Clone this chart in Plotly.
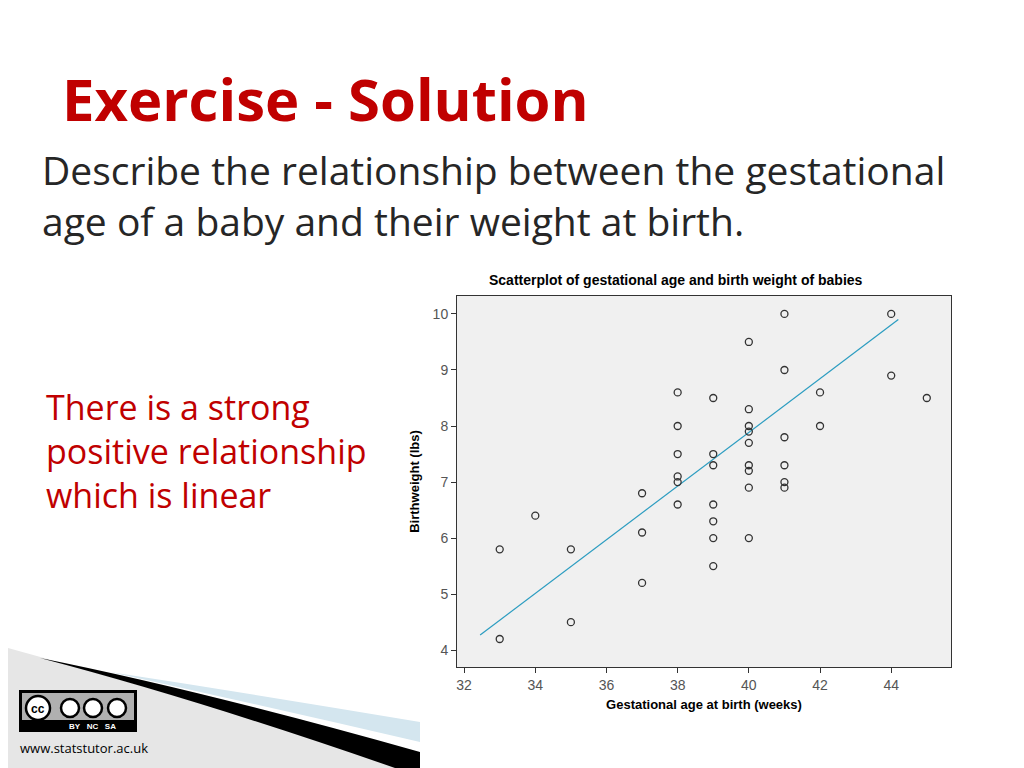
import plotly.graph_objects as go

age = [33, 33, 34, 35, 35, 37, 37, 37,
       38, 38, 38, 38, 38, 38,
       39, 39, 39, 39, 39, 39, 39,
       40, 40, 40, 40, 40, 40, 40, 40, 40,
       41, 41, 41, 41, 41, 41,
       42, 42, 44, 44, 45]
weight = [5.8, 4.2, 6.4, 5.8, 4.5, 6.8, 6.1, 5.2,
          8.6, 8.0, 7.5, 7.1, 7.0, 6.6,
          8.5, 7.5, 7.3, 6.6, 6.3, 6.0, 5.5,
          9.5, 8.3, 8.0, 7.9, 7.7, 7.3, 7.2, 6.9, 6.0,
          10.0, 9.0, 7.8, 7.3, 7.0, 6.9,
          8.6, 8.0, 10.0, 8.9, 8.5]
# fit line as drawn in the reference
fit_x = [32.45, 44.2]
fit_y = [4.27, 9.9]
x_ticks = [32, 34, 36, 38, 40, 42, 44]
y_ticks = [4, 5, 6, 7, 8, 9, 10]

OFF = 8  # page body margin
W, H = 1024 - OFF, 768 - OFF


def px(x):
    return (x - OFF) / W


def py(y):
    return 1 - (y - OFF) / H


fig = go.Figure()
fig.add_trace(go.Scatter(
    x=fit_x, y=fit_y, mode="lines",
    line=dict(color="#2b9cc0", width=1.2), hoverinfo="skip"
))
fig.add_trace(go.Scatter(
    x=age, y=weight, mode="markers",
    marker=dict(symbol="circle-open", size=7, color="#333333", line=dict(width=1.3))
))

# footer decoration
shapes = [
    dict(type="path", xref="paper", yref="paper", layer="below",
         path=f"M {px(8)},{py(648)} L {px(80)},{py(668)} L {px(420)},{py(768)} L {px(8)},{py(768)} Z",
         fillcolor="#e6e6e6", line=dict(width=0)),
    dict(type="path", xref="paper", yref="paper", layer="below",
         path=f"M {px(110)},{py(672)} Q {px(260)},{py(695)} {px(420)},{py(722)} "
              f"L {px(420)},{py(742)} Q {px(260)},{py(705)} {px(110)},{py(672)} Z",
         fillcolor="#d4e6ef", line=dict(width=0)),
    dict(type="path", xref="paper", yref="paper", layer="below",
         path=f"M {px(40)},{py(658)} Q {px(200)},{py(690)} {px(420)},{py(752)} "
              f"L {px(420)},{py(768)} L {px(395)},{py(768)} Q {px(200)},{py(700)} {px(40)},{py(658)} Z",
         fillcolor="black", line=dict(width=0)),
    dict(type="rect", xref="paper", yref="paper",
         x0=px(19), x1=px(137), y0=py(732), y1=py(690),
         fillcolor="black", line=dict(width=0)),
    dict(type="rect", xref="paper", yref="paper",
         x0=px(22), x1=px(134), y0=py(720), y1=py(693),
         fillcolor="#b0b0b0", line=dict(width=0)),
]
for cx, r in [(38, 12), (70, 9), (93, 9), (117, 9)]:
    shapes.append(dict(type="circle", xref="paper", yref="paper",
                       x0=px(cx - r), x1=px(cx + r), y0=py(708 + r), y1=py(708 - r),
                       fillcolor="white", line=dict(color="black", width=2.5)))

ann = [
    dict(text="<b>Exercise - Solution</b>", x=px(60), y=py(98), xanchor="left", yanchor="middle",
         font=dict(family="Open Sans", size=58, color="#c00000")),
    dict(text="Describe the relationship between the gestational<br>age of a baby and their weight at birth.",
         x=px(40), y=py(195), xanchor="left", yanchor="middle", align="left",
         font=dict(family="Open Sans", size=39, color="#262626")),
    dict(text="There is a strong<br>positive relationship<br>which is linear",
         x=px(44), y=py(451), xanchor="left", yanchor="middle", align="left",
         font=dict(family="Open Sans", size=34, color="#c00000")),
    dict(text="<b>Scatterplot of gestational age and birth weight of babies</b>",
         x=px(676), y=py(280), xanchor="center", yanchor="middle",
         font=dict(family="Liberation Sans", size=14, color="black")),
    dict(text="<b>cc</b>", x=px(38), y=py(709), xanchor="center", yanchor="middle",
         font=dict(family="Liberation Sans", size=12, color="black")),
    dict(text="<b>BY   NC   SA</b>", x=px(92), y=py(726), xanchor="center", yanchor="middle",
         font=dict(family="Liberation Sans", size=8, color="white")),
    dict(text="www.statstutor.ac.uk", x=px(18), y=py(748), xanchor="left", yanchor="middle",
         font=dict(family="Open Sans", size=13, color="black")),
]
for a in ann:
    a["xref"] = "paper"
    a["yref"] = "paper"
    a["showarrow"] = False

fig.update_layout(
    width=W, height=H,
    margin=dict(l=0, r=0, t=0, b=0),
    paper_bgcolor="white",
    plot_bgcolor="#f0f0f0",
    showlegend=False,
    shapes=shapes,
    annotations=ann,
    xaxis=dict(
        domain=[px(457), px(951)], range=[31.8, 45.68],
        tickvals=x_ticks, ticks="outside", ticklen=5, tickcolor="#333",
        showgrid=False, zeroline=False, showline=True, linecolor="#333", mirror=True,
        tickfont=dict(family="Liberation Sans", size=14, color="#555"),
        title=dict(text="<b>Gestational age at birth (weeks)</b>", standoff=8,
                   font=dict(family="Liberation Sans", size=13, color="black")),
    ),
    yaxis=dict(
        domain=[py(667), py(296)], range=[3.7, 10.32],
        tickvals=y_ticks, ticks="outside", ticklen=5, tickcolor="#333",
        showgrid=False, zeroline=False, showline=True, linecolor="#333", mirror=True,
        tickfont=dict(family="Liberation Sans", size=14, color="#555"),
        title=dict(text="<b>Birthweight (lbs)</b>", standoff=10,
                   font=dict(family="Liberation Sans", size=13, color="black")),
    ),
)

fig.write_html("out.html")
